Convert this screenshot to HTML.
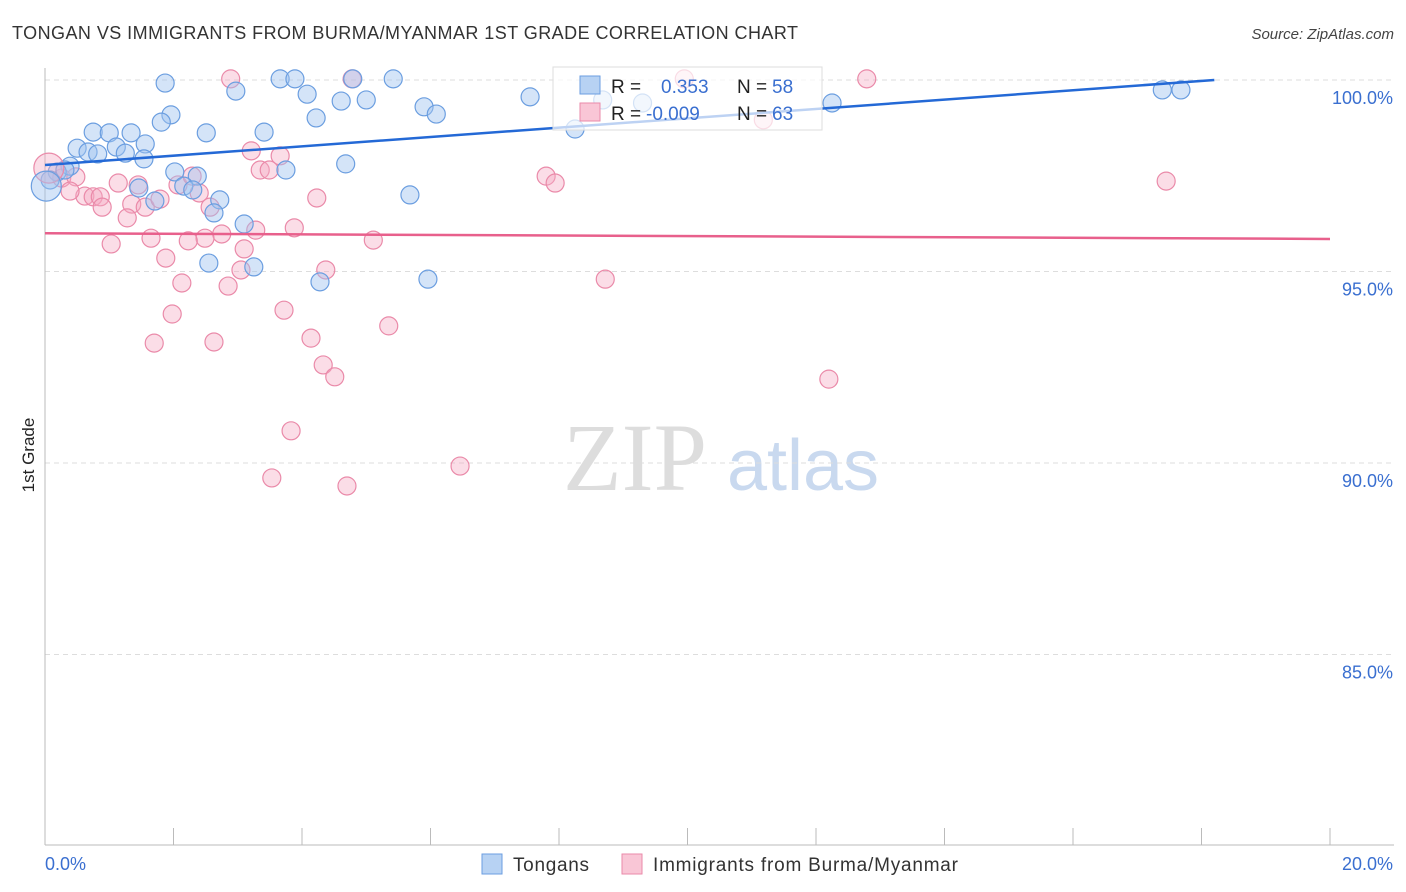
<!DOCTYPE html>
<html><head><meta charset="utf-8"><style>
body{margin:0;background:#fff;font-family:"Liberation Sans",sans-serif}
svg{display:block}
</style></head><body>
<svg id="chart" width="1406" height="892" xmlns="http://www.w3.org/2000/svg" font-family="Liberation Sans, sans-serif">
<text x="12" y="39" font-size="18" fill="#333" textLength="786">TONGAN VS IMMIGRANTS FROM BURMA/MYANMAR 1ST GRADE CORRELATION CHART</text>
<text x="1394" y="39" font-size="15" fill="#444" text-anchor="end" font-style="italic">Source: ZipAtlas.com</text>
<text x="34" y="455" font-size="17" fill="#222" text-anchor="middle" transform="rotate(-90 34 455)">1st Grade</text>
<g>
<text x="635" y="490" font-size="96" fill="#ddd" text-anchor="middle" font-family="Liberation Serif, serif">ZIP</text>
<text x="803" y="490" font-size="72" fill="#c9d9ef" text-anchor="middle">atlas</text>
</g>
<g id="grid"></g><g id="axes"></g><g id="pts"></g><g id="lines"></g>
<g>
<rect x="553" y="67" width="269" height="63" fill="rgba(255,255,255,0.7)" stroke="#ddd"/>
<rect x="580" y="76" width="20" height="18" fill="#b7d2f3" stroke="#6b9ee0"/>
<rect x="580" y="103" width="20" height="18" fill="#f9c6d6" stroke="#ea8aa9"/>
<text x="611" y="93" font-size="19" fill="#222">R = </text><text x="661" y="93" font-size="19" fill="#3a6fd0">0.353</text>
<text x="737" y="93" font-size="19" fill="#222">N = </text><text x="772" y="93" font-size="19" fill="#3a6fd0">58</text>
<text x="611" y="120" font-size="19" fill="#222">R = </text><text x="646" y="120" font-size="19" fill="#3a6fd0">-0.009</text>
<text x="737" y="120" font-size="19" fill="#222">N = </text><text x="772" y="120" font-size="19" fill="#3a6fd0">63</text>
</g>
<g>
<rect x="482" y="854" width="20" height="20" fill="#b7d2f3" stroke="#6b9ee0"/>
<text x="513" y="871" font-size="19" fill="#333" textLength="76">Tongans</text>
<rect x="622" y="854" width="20" height="20" fill="#f9c6d6" stroke="#ea8aa9"/>
<text x="653" y="871" font-size="19" fill="#333" textLength="305">Immigrants from Burma/Myanmar</text>
</g>
</svg>
<script>
const yTicks=[100,95,90,85];
const yTickLabels=["100.0%","95.0%","90.0%","85.0%"];
const xTickLabels=["0.0%","20.0%"];
const blueX=[1.87,2.97,3.66,3.89,4.08,4.79,5.42,4.61,5.00,5.90,6.09,4.22,1.96,1.81,2.51,3.41,0.75,1.00,1.34,0.50,0.67,1.11,0.82,1.25,1.56,1.54,4.68,3.75,2.02,2.37,0.39,0.19,0.08,1.46,2.16,2.30,2.72,1.71,5.68,2.63,3.10,2.55,3.25,4.28,5.96,7.55,8.25,8.68,17.39,17.68,12.25,0.31,9.3];
const blueY=[99.92,99.71,100.03,100.03,99.63,100.03,100.03,99.45,99.48,99.30,99.11,99.01,99.09,98.90,98.62,98.64,98.64,98.62,98.62,98.22,98.12,98.25,98.07,98.09,98.33,97.94,97.81,97.65,97.60,97.49,97.75,97.60,97.39,97.18,97.23,97.13,96.87,96.84,97.00,96.53,96.24,95.22,95.12,94.73,94.80,99.56,98.72,99.48,99.74,99.74,99.40,97.65,99.4];
const pinkX=[2.89,4.78,12.79,9.95,11.18,3.21,3.66,3.35,3.49,0.26,0.48,1.14,1.45,0.62,0.75,0.86,0.39,0.89,1.35,1.56,1.79,1.28,2.07,2.29,2.40,2.57,2.75,2.49,2.23,1.65,1.03,1.88,2.13,2.85,3.05,3.10,3.28,3.88,4.23,4.37,5.11,3.72,1.98,1.70,2.63,4.14,4.33,4.51,5.35,3.83,3.53,4.70,6.46,7.80,7.94,8.72,12.20,17.45];
const pinkY=[100.03,100.03,100.03,100.03,98.96,98.15,98.02,97.65,97.65,97.44,97.47,97.31,97.26,96.97,96.95,96.95,97.10,96.68,96.76,96.68,96.89,96.40,97.26,97.49,97.05,96.68,95.98,95.87,95.80,95.87,95.72,95.35,94.70,94.62,95.04,95.59,96.08,96.14,96.92,95.04,95.82,93.99,93.89,93.13,93.16,93.26,92.56,92.25,93.58,90.84,89.61,89.40,89.92,97.49,97.31,94.80,92.19,97.36];
const bigBlue=[[0.02,97.23]], bigPink=[[0.06,97.70]];
const blueTrend=[[0,97.78],[18.2,100]];
const pinkTrend=[[0,96.0],[20,95.85]];
const X=v=>45+v*64.25, Y=v=>80+(100-v)*38.3;
const NS="http://www.w3.org/2000/svg";
function mk(tag,attrs,parent){const e=document.createElementNS(NS,tag);for(const k in attrs)e.setAttribute(k,attrs[k]);parent.appendChild(e);return e;}
const grid=document.getElementById('grid'),axes=document.getElementById('axes'),pts=document.getElementById('pts'),lines=document.getElementById('lines');
yTicks.forEach((t,i)=>{
 const l=mk('line',{x1:45,x2:1394,y1:Y(t),y2:Y(t),stroke:'#ddd','stroke-dasharray':'5,4'},grid);
 
 
 const tx=mk('text',{x:1393,y:Y(t)+24,'font-size':18,fill:'#3a6fd0','text-anchor':'end'},axes);
 tx.textContent=yTickLabels[i];
 
 
});
const ax=mk('line',{x1:45,x2:1394,y1:845,y2:845,stroke:'#bbb'},axes);


const ay=mk('line',{x1:45,x2:45,y1:68,y2:845,stroke:'#bbb'},axes);


for(let i=0;i<=10;i++){
 const t=mk('line',{x1:X(i*2),x2:X(i*2),y1:828,y2:845,stroke:'#bbb'},axes);
 
 
}
const xl0=mk('text',{x:45,y:870,'font-size':18,fill:'#3a6fd0'},axes);xl0.textContent=xTickLabels[0];


const xl1=mk('text',{x:1393,y:870,'font-size':18,fill:'#3a6fd0','text-anchor':'end'},axes);xl1.textContent=xTickLabels[1];


function dot(x,y,r,blue){
 const c=mk('circle',{cx:X(x),cy:Y(y),r:r,fill:blue?'rgba(160,196,240,0.45)':'rgba(246,170,195,0.4)',stroke:blue?'#6b9ee0':'#ea8aa9','stroke-width':1.2},pts);
 
 
}
pinkX.forEach((x,i)=>dot(x,pinkY[i],9,false));
blueX.forEach((x,i)=>dot(x,blueY[i],9,true));
bigPink.forEach(p=>dot(p[0],p[1],15,false));
bigBlue.forEach(p=>dot(p[0],p[1],15,true));
const bl=mk('line',{x1:X(blueTrend[0][0]),y1:Y(blueTrend[0][1]),x2:X(blueTrend[1][0]),y2:Y(blueTrend[1][1]),stroke:'#2469d6','stroke-width':2.5},lines);


const pl=mk('line',{x1:X(pinkTrend[0][0]),y1:Y(pinkTrend[0][1]),x2:X(pinkTrend[1][0]),y2:Y(pinkTrend[1][1]),stroke:'#e8608c','stroke-width':2.5},lines);


</script>
</body></html>
